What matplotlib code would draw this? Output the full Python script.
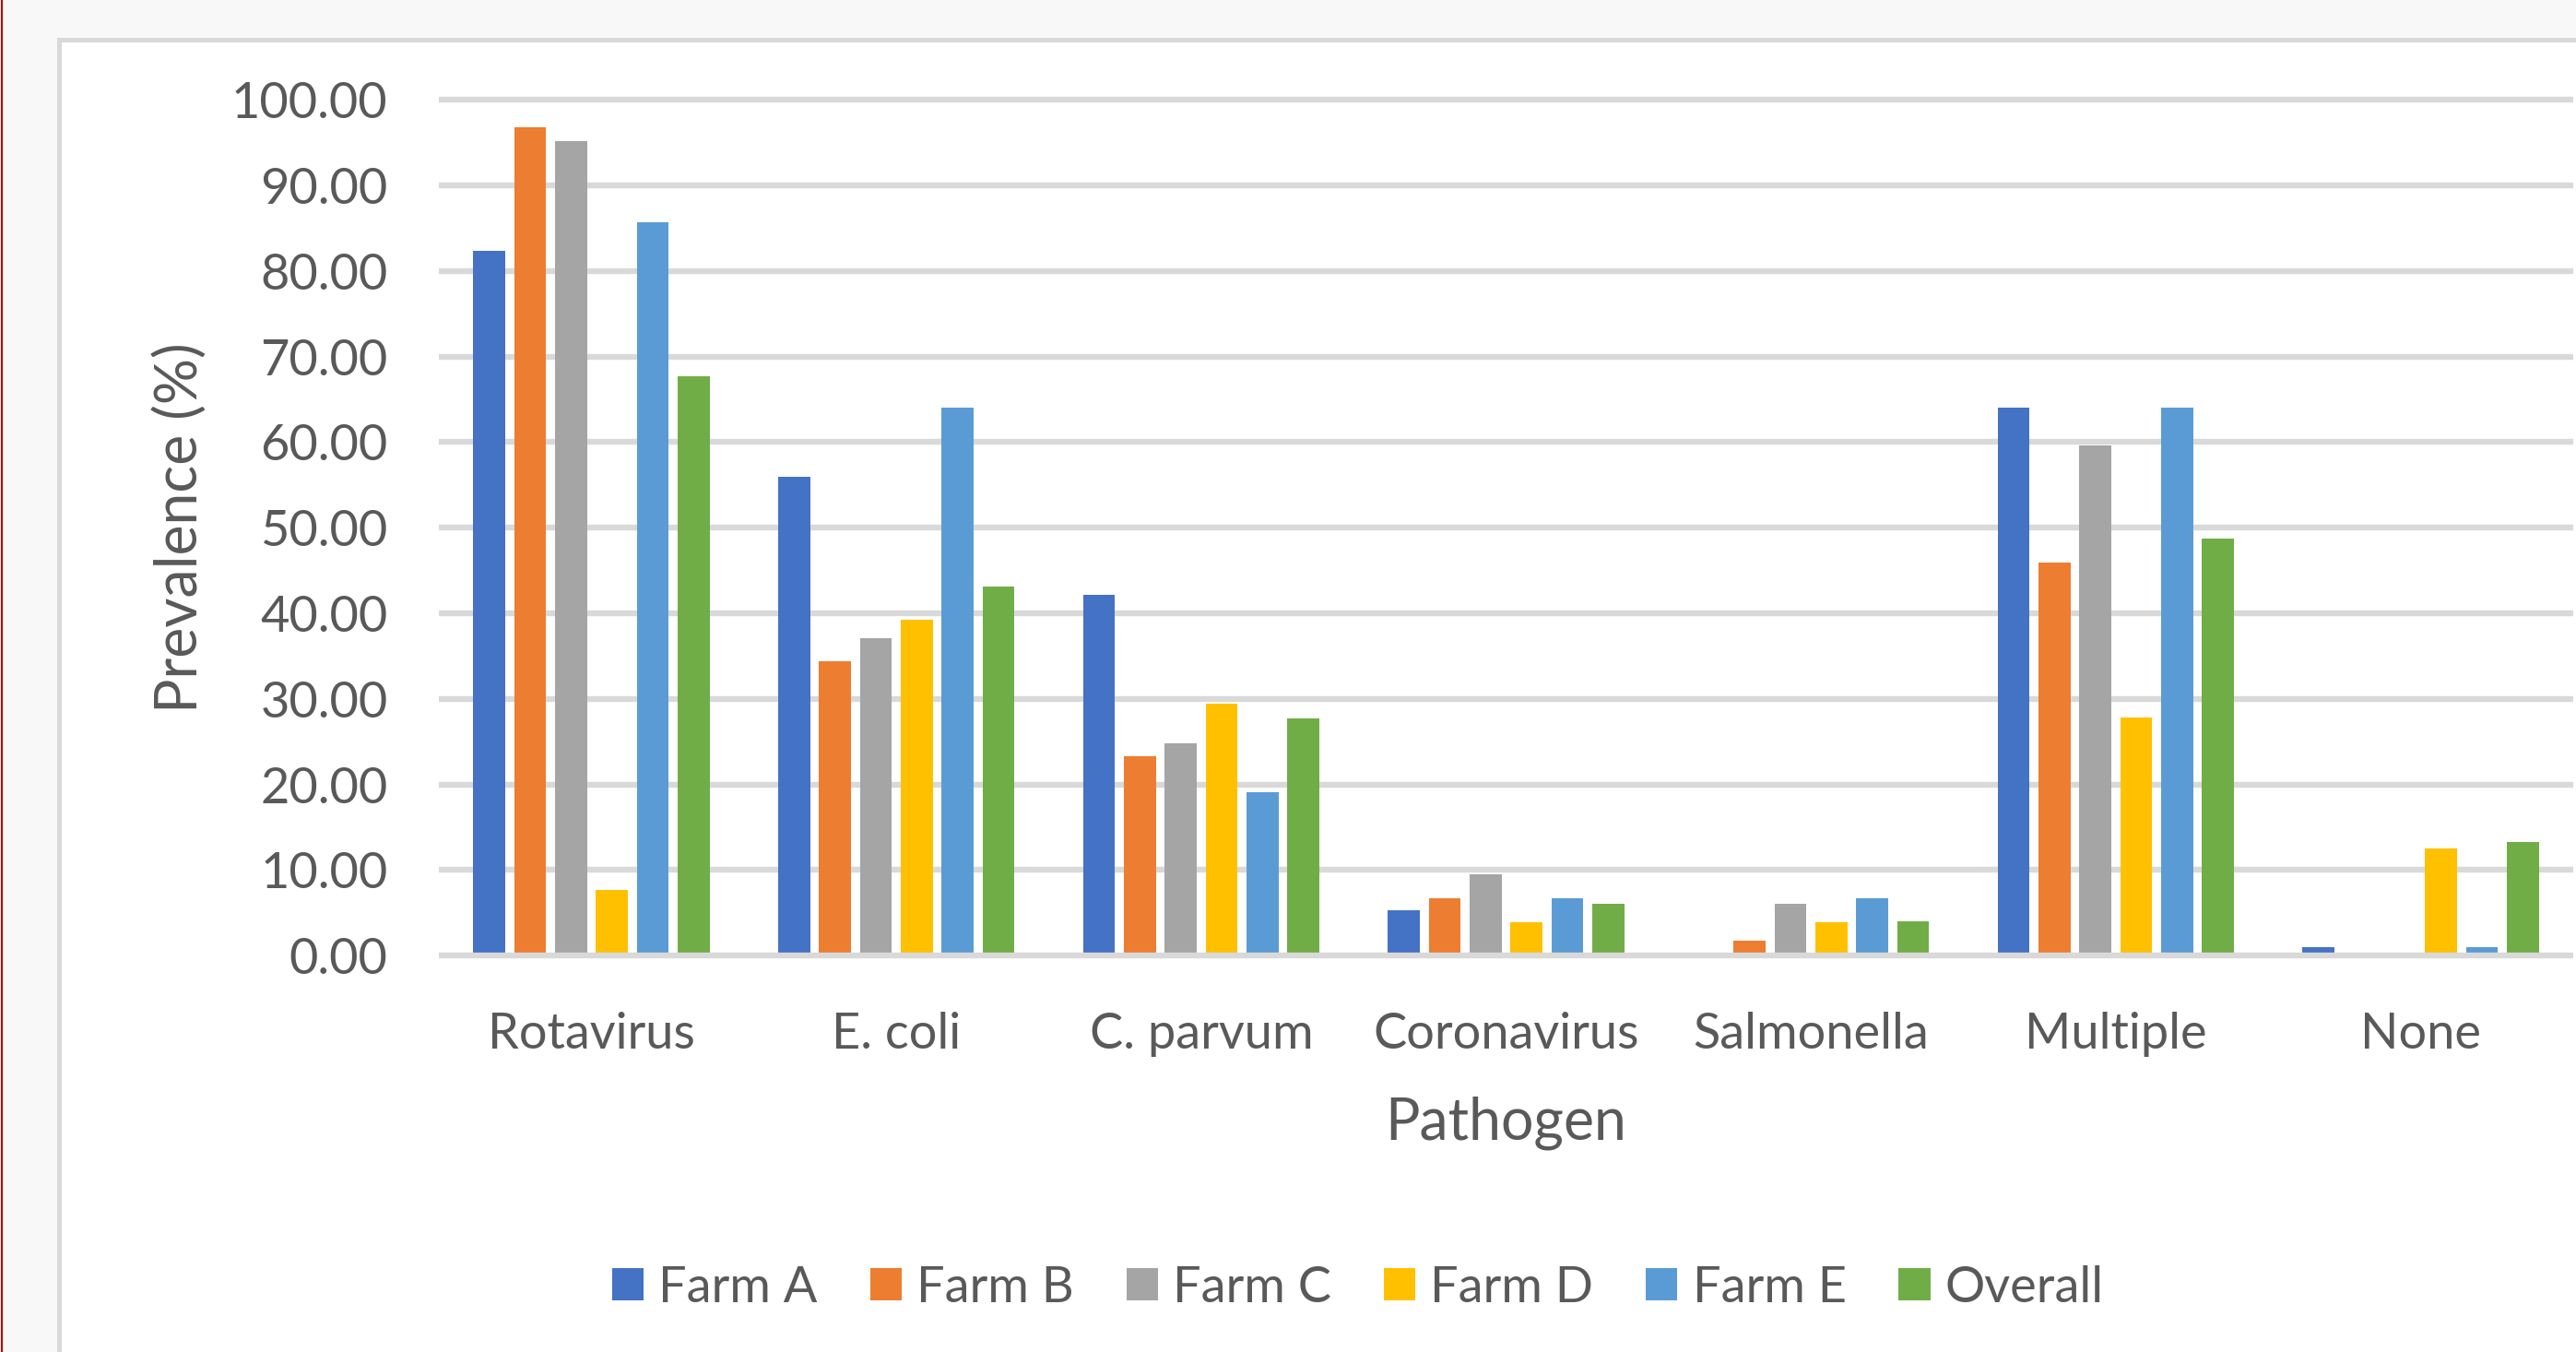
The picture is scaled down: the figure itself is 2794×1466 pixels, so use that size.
import matplotlib.pyplot as plt
import matplotlib.patches as mpatches
from matplotlib.lines import Line2D
import numpy as np

# Data
pathogens = ['Rotavirus', 'E. coli', 'C. parvum', 'Coronavirus', 'Salmonella', 'Multiple', 'None']
farm_a = [82.35, 56.00, 42.11, 5.26, 0.00, 64.00, 1.00]
farm_b = [96.77, 34.38, 23.33, 6.67, 1.72, 45.95, 0.00]
farm_c = [95.24, 37.14, 24.76, 9.52, 6.06, 59.62, 0.00]
farm_d = [7.69, 39.22, 29.41, 3.92, 3.92, 27.78, 12.50]
farm_e = [85.71, 64.00, 19.05, 6.67, 6.67, 64.00, 1.00]
overall = [67.69, 43.08, 27.69, 6.06, 3.94, 48.78, 13.21]

series = ['Farm A', 'Farm B', 'Farm C', 'Farm D', 'Farm E', 'Overall']
values = [farm_a, farm_b, farm_c, farm_d, farm_e, overall]
colors = ['#4472C4', '#ED7D31', '#A5A5A5', '#FFC000', '#5B9BD5', '#70AD47']
y_ticks = np.arange(0, 101, 10)

text_color = '#595959'
grid_color = '#D9D9D9'
plt.rcParams['font.family'] = ['Lato', 'DejaVu Sans']
fs = 39
title_fs = 45

fig = plt.figure(figsize=(27.94, 14.66), dpi=100, facecolor='#F8F8F8')

# White chart panel with grey border, running off the right and bottom edges
panel = mpatches.Rectangle((64 / 2794, -0.1), 1.2, 1 - 43 / 1466 + 0.1,
                           transform=fig.transFigure, facecolor='white',
                           edgecolor=grid_color, linewidth=3.6, zorder=-1)
fig.patches.append(panel)
fig.add_artist(Line2D([0.0006, 0.0006], [0, 1], color='#C00000', lw=1.5,
                      transform=fig.transFigure))

ax = fig.add_axes([0.1704, 0.2933, 0.8285, 0.6327])
ax.set_facecolor('none')
ax.set_zorder(2)

x = np.arange(len(pathogens))
pitch = 0.134
width = 0.105
for i, (name, vals, col) in enumerate(zip(series, values, colors)):
    offset = (i - (len(series) - 1) / 2) * pitch
    ax.bar(x + offset, vals, width=width, color=col, label=name, zorder=2)

# Horizontal gridlines
ax.hlines(y_ticks[1:], -0.5, 6.5, colors=grid_color, linewidth=4.6, zorder=1, clip_on=False)
ax.hlines([0], -0.5, 6.5, colors=grid_color, linewidth=4.6, zorder=3, clip_on=False)

ax.set_xlim(-0.5, 6.5)
ax.set_ylim(0, 100)
ax.set_yticks(y_ticks)
ax.set_yticklabels([f'{v:.2f}' for v in y_ticks])
ax.set_xticks(x)
ax.set_xticklabels(pathogens)
ax.tick_params(axis='both', length=0, labelsize=fs, labelcolor=text_color)
ax.tick_params(axis='y', pad=40)
ax.tick_params(axis='x', pad=44)
for s in ax.spines.values():
    s.set_visible(False)

fig.text(196 / 2794, 1 - 572 / 1466, 'Prevalence (%)', rotation=90, ha='center', va='center',
         fontsize=title_fs, color=text_color)
fig.text(1633 / 2794, 1 - 1218 / 1466, 'Pathogen', ha='center', va='center',
         fontsize=title_fs, color=text_color)

fig.legend(loc='center', bbox_to_anchor=(1473 / 2794, 1 - 1396 / 1466), ncol=6,
           frameon=False, fontsize=fs, labelcolor=text_color,
           handlelength=0.63, handleheight=0.63, handletextpad=0.3, columnspacing=1.05)

plt.savefig('out.png', dpi=100, facecolor=fig.get_facecolor())
